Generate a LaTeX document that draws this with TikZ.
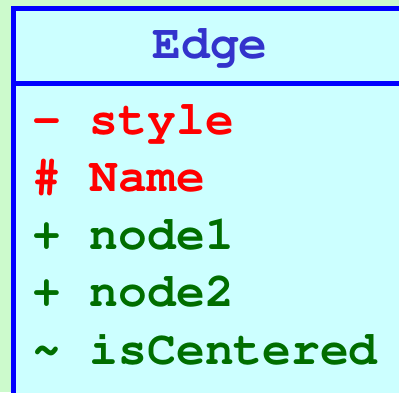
\documentclass[tikz,border=0pt]{standalone}
\usepackage[T1]{fontenc}
\renewcommand\ttdefault{pcr}
\definecolor{bggreen}{RGB}{204,250,204}
\definecolor{boxcyan}{RGB}{204,255,255}
\definecolor{titleblue}{RGB}{51,51,204}
\definecolor{attrgreen}{RGB}{0,110,0}
\begin{document}
\begin{tikzpicture}[x=1pt, y=-1pt,
  attr/.style={anchor=base west, inner sep=0pt, font=\fontsize{48}{48}\selectfont\ttfamily\bfseries}]
\useasboundingbox[fill=bggreen](0,0)rectangle(399,392);
\clip(0,0)rectangle(399,392);
\draw[blue, line width=5pt, fill=boxcyan](13.5,8.5)rectangle(430,430);
\draw[blue, line width=5pt](13.5,83.5)--(430,83.5);
\node (title) at (210,58)[attr, anchor=base, text=titleblue]{Edge};
\node (style) at (32,134)[attr, text=red]{- style};
\node (name) at (32,191)[attr, text=red]{\# Name};
\node (nodeA) at (32,249)[attr, text=attrgreen]{+ node1};
\node (nodeB) at (32,306)[attr, text=attrgreen]{+ node2};
\node (centered) at (32,364)[attr, text=attrgreen]{\textasciitilde{} isCentered};
\end{tikzpicture}
\end{document}
